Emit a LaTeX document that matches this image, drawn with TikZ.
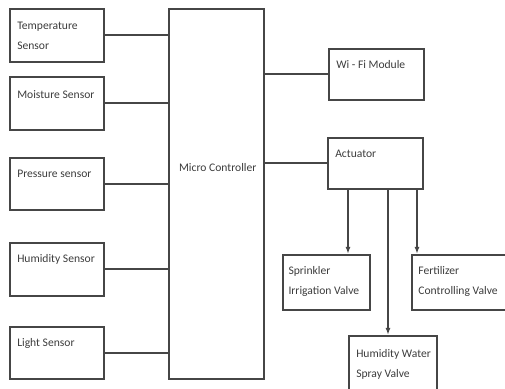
\documentclass[tikz,border=0pt]{standalone}
\usepackage{fontspec}
\setmainfont{Carlito}
\usepackage{tikz}
\usetikzlibrary{arrows.meta, positioning, calc}
\definecolor{boxline}{RGB}{70,70,70}
\definecolor{boxtext}{RGB}{60,60,60}

\begin{document}
\begin{tikzpicture}[x=0.02cm, y=-0.02cm,
  blk/.style={rectangle, draw=boxline, line width=0.9pt, anchor=north west, inner sep=0pt},
  txt/.style={anchor=north west, align=left, inner sep=0pt, xshift=4.5pt, yshift=-8pt,
              font=\fontsize{6.6}{11.3}\selectfont, text=boxtext},
  arr/.style={-{Latex[length=4pt, width=2.8pt]}, line width=0.8pt, boxline},
  link/.style={line width=0.9pt, boxline},
]
  \useasboundingbox (0,0) rectangle (505,389);
  \clip (0,0) rectangle (505,389);

  % sensors
  \node[blk, minimum width=1.88cm, minimum height=1.06cm, label={[txt]north west:{Temperature\\Sensor}}] (temp)  at (9,8)   {};
  \node[blk, minimum width=1.88cm, minimum height=1.06cm, label={[txt]north west:Moisture Sensor}]       (moist) at (9,76)  {};
  \node[blk, minimum width=1.88cm, minimum height=1.04cm, label={[txt, yshift=1pt]north west:Pressure sensor}] (press) at (9,157) {};
  \node[blk, minimum width=1.88cm, minimum height=1.06cm, label={[txt, yshift=1pt]north west:Humidity Sensor}] (humid) at (9,242) {};
  \node[blk, minimum width=1.88cm, minimum height=1.04cm, label={[txt, yshift=1pt]north west:Light Sensor}]    (light) at (9,326) {};

  % controller
  \node[blk, minimum width=1.90cm, minimum height=7.40cm,
        label={[txt, xshift=1.6pt, yshift=-80pt]north west:Micro Controller}] (mc) at (168,8) {};

  % outputs
  \node[blk, minimum width=1.90cm, minimum height=1.02cm, label={[txt, yshift=1.2pt]north west:Wi - Fi Module}] (wifi) at (328,48)  {};
  \node[blk, minimum width=1.90cm, minimum height=1.02cm, label={[txt, yshift=0.6pt]north west:Actuator}]       (act)  at (327,137) {};

  % valves
  \node[blk, minimum width=1.74cm, minimum height=1.10cm, label={[txt, xshift=-1pt, yshift=1.2pt]north west:{Sprinkler\\Irrigation Valve}}] (sprink) at (282,254) {};
  \node[blk, minimum width=2.20cm, minimum height=1.10cm, label={[txt, xshift=-0.5pt, yshift=1.2pt]north west:{Fertilizer\\Controlling Valve}}] (fert) at (411,254) {};
  \node[blk, minimum width=1.76cm, minimum height=1.30cm, label={[txt]north west:{Humidity Water\\Spray Valve}}] (spray) at (348,335) {};

  \draw[link] (temp.east)  -- (temp.east -| mc.west);
  \draw[link] (moist.east) -- (moist.east -| mc.west);
  \draw[link] (press.east) -- (press.east -| mc.west);
  \draw[link] (humid.east) -- (humid.east -| mc.west);
  \draw[link] (light.east) -- (light.east -| mc.west);

  \draw[link] (mc.east |- wifi.west) -- (wifi.west);
  \draw[link] (mc.east |- act.west)  -- (act.west);

  \draw[arr] ($(act.south west)+(21,0)$) coordinate (a1) -- (a1 |- sprink.north);
  \draw[arr] ($(act.south west)+(61,0)$) coordinate (a2) -- (a2 |- spray.north);
  \draw[arr] ($(act.south west)+(90,0)$) coordinate (a3) -- (a3 |- fert.north);
\end{tikzpicture}
\end{document}
